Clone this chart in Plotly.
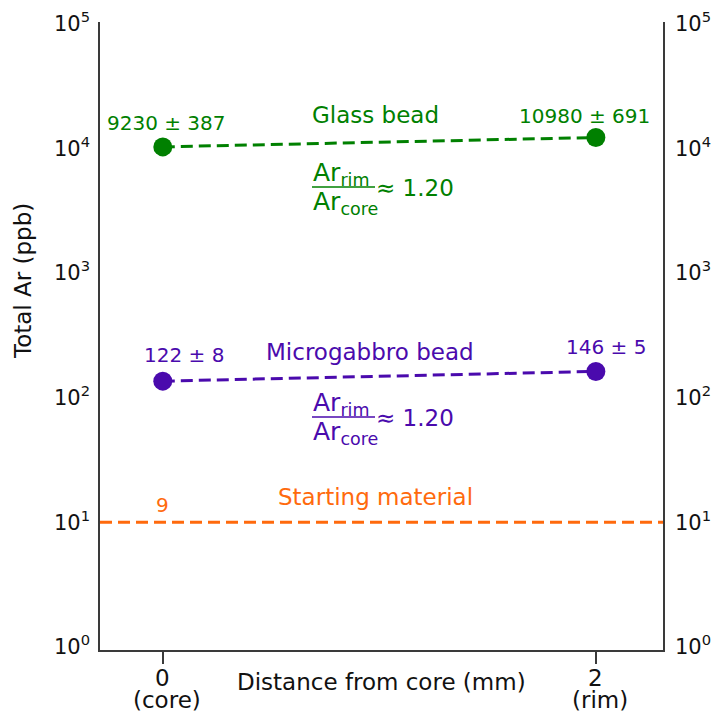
import math
import plotly.graph_objects as go

# Measured total argon contents (ppb) at bead core and rim
positions = [0, 2]
position_labels = ["(core)", "(rim)"]
glass_ar = [9230, 10980]
glass_err = [387, 691]
gabbro_ar = [122, 146]
gabbro_err = [8, 5]
starting_ar = 9
glass_ratio = 1.20
gabbro_ratio = 1.20

GREEN = "#008000"
PURPLE = "#4a0aad"
ORANGE = "#ff6a0d"
AXIS = "#3a3a3a"
TEXT = "#111111"
FONT = "DejaVu Sans"

W, H = 713, 714
L, R, T, B = 100, 50, 22, 64
Y_RANGE = [-0.07, 4.967]
X_RANGE = [-0.29, 2.31]


def px_x(px):
    return (px - L) / (W - L - R)


def px_y(py):
    return (H - B - py) / (H - T - B)


def log_to_paper(d):
    return (d - Y_RANGE[0]) / (Y_RANGE[1] - Y_RANGE[0])


def label(**kw):
    base = dict(showarrow=False, xanchor="center", yanchor="middle")
    base.update(kw)
    return base


decades = [0, 1, 2, 3, 4, 5]
tickvals = [10 ** d for d in decades]
ticktext = [f"10<sup>{d}</sup>" for d in decades]

fig = go.Figure()

dash = "12px,6px"
for vals, col in [(glass_ar, GREEN), (gabbro_ar, PURPLE)]:
    fig.add_trace(go.Scatter(
        x=positions, y=vals, mode="lines+markers",
        line=dict(color=col, width=3, dash=dash),
        marker=dict(color=col, size=19, line=dict(width=0)),
        showlegend=False, hoverinfo="skip",
    ))

# empty trace so the mirrored right axis is drawn
fig.add_trace(go.Scatter(x=[], y=[], yaxis="y2", showlegend=False))

# starting material level across the full width
fig.add_shape(type="line", xref="paper", x0=0, x1=1, yref="y",
              y0=starting_ar, y1=starting_ar,
              line=dict(color=ORANGE, width=3, dash=dash))

ann = []

# decade labels on both sides of the plot
for d, txt in zip(decades, ticktext):
    for xp, anchor, dx in [(0, "right", -8), (1, "left", 10)]:
        ann.append(label(x=xp, y=log_to_paper(d), xref="paper", yref="paper",
                         text=txt, xanchor=anchor, xshift=dx, yshift=-4,
                         font=dict(size=21, color=TEXT, family=FONT)))

# x tick numbers with their position names underneath
for x, lab in zip(positions, position_labels):
    ann.append(label(x=x, y=0, xref="x", yref="paper", text=str(x),
                     yshift=-(678 - (H - B)),
                     font=dict(size=23, color=TEXT, family=FONT)))
    ann.append(label(x=x, y=0, xref="x", yref="paper", text=lab,
                     xshift=4, yshift=-(700 - (H - B)),
                     font=dict(size=23, color=TEXT, family=FONT)))

# value labels anchored to each marker (annotation y on a log axis is log10)
offsets_glass = [(4, 24), (-11, 22)]
offsets_gabbro = [(21, 26), (10, 24)]
for vals, errs, offs, col in [(glass_ar, glass_err, offsets_glass, GREEN),
                              (gabbro_ar, gabbro_err, offsets_gabbro, PURPLE)]:
    for x, v, e, (dx, dy) in zip(positions, vals, errs, offs):
        ann.append(label(x=x, y=math.log10(v), xref="x", yref="y",
                         text=f"{v} ± {e}", xshift=dx, yshift=dy,
                         font=dict(size=20, color=col, family=FONT)))
ann.append(label(x=positions[0], y=math.log10(starting_ar), xref="x", yref="y",
                 text=f"{starting_ar}", yshift=17,
                 font=dict(size=20, color=ORANGE, family=FONT)))

# series names
for text, cx, cy, col in [("Glass bead", 375, 115, GREEN),
                          ("Microgabbro bead", 370, 352, PURPLE),
                          ("Starting material", 375, 497, ORANGE)]:
    ann.append(label(x=px_x(cx), y=px_y(cy), xref="paper", yref="paper",
                     text=text, font=dict(size=23, color=col, family=FONT)))

# rim/core ratio expressions
for ratio, line_y, col in [(glass_ratio, 187, GREEN), (gabbro_ratio, 417, PURPLE)]:
    ann.append(label(x=px_x(341), y=px_y(line_y - 13), xref="paper", yref="paper",
                     text="Ar<sub>rim</sub>",
                     font=dict(size=25, color=col, family=FONT)))
    ann.append(label(x=px_x(345), y=px_y(line_y + 16), xref="paper", yref="paper",
                     text="Ar<sub>core</sub>",
                     font=dict(size=25, color=col, family=FONT)))
    ann.append(label(x=px_x(374), y=px_y(line_y + 1), xref="paper", yref="paper",
                     xanchor="left", text=f"≈ {ratio:.2f}",
                     font=dict(size=23, color=col, family=FONT)))
    fig.add_shape(type="line", xref="paper", yref="paper",
                  x0=px_x(312), x1=px_x(375), y0=px_y(line_y), y1=px_y(line_y),
                  line=dict(color=col, width=1.5))

# axis titles
ann.append(label(x=px_x(381), y=0, xref="paper", yref="paper",
                 text="Distance from core (mm)", yshift=-(682 - (H - B)),
                 font=dict(size=23, color=TEXT, family=FONT)))
ann.append(label(x=px_x(23), y=px_y(281), xref="paper", yref="paper",
                 text="Total Ar (ppb)", textangle=-90,
                 font=dict(size=23, color=TEXT, family=FONT)))

yaxis_common = dict(
    type="log", range=Y_RANGE, tickvals=tickvals, showticklabels=False,
    showline=True, linecolor=AXIS, linewidth=2, ticks="",
    showgrid=False, zeroline=False, automargin=False,
)

fig.update_layout(
    width=W, height=H,
    margin=dict(l=L, r=R, t=T, b=B, autoexpand=False),
    paper_bgcolor="white", plot_bgcolor="white",
    font=dict(family=FONT, color=TEXT),
    xaxis=dict(range=X_RANGE, tickvals=positions, showticklabels=False,
               showline=True, linecolor=AXIS, linewidth=2,
               ticks="outside", ticklen=12, tickwidth=2, tickcolor=AXIS,
               showgrid=False, zeroline=False, automargin=False),
    yaxis=dict(**yaxis_common, side="left"),
    yaxis2=dict(**yaxis_common, side="right", overlaying="y", anchor="x"),
    annotations=ann,
)

fig.write_html("out.html")
